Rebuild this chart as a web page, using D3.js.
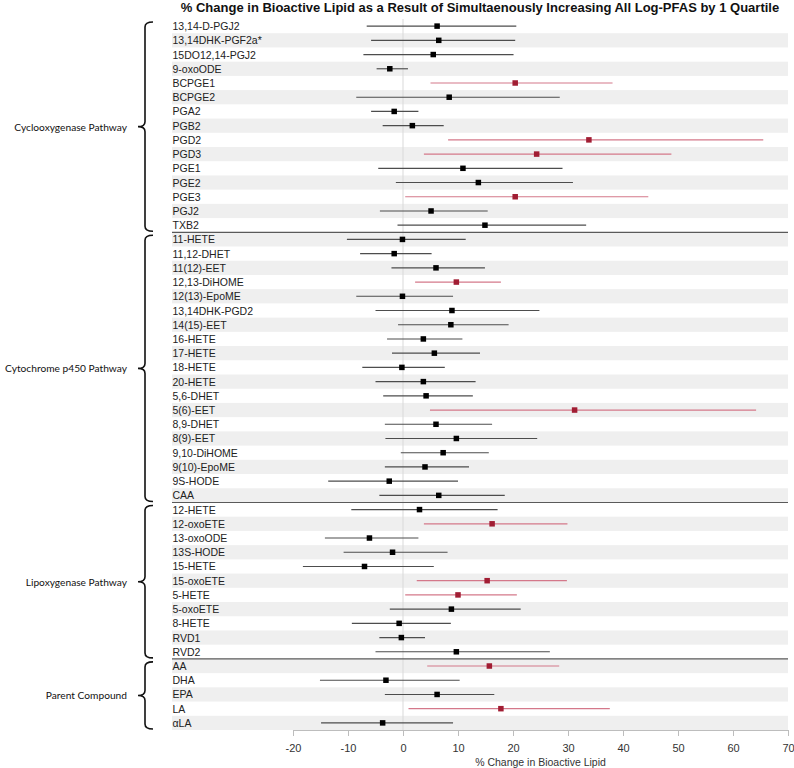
<!DOCTYPE html>
<html>
<head>
<meta charset="utf-8">
<script src="https://cdn.jsdelivr.net/npm/d3@7"></script>
<style>
    body { margin: 0; background: #fff; }
    svg { display: block; }
</style>
</head>
<body>
<svg id="forestPlot" width="794" height="768"></svg>
<script>
// lipid names, top to bottom
const lipids = [
    "13,14-D-PGJ2", "13,14DHK-PGF2a*", "15DO12,14-PGJ2", "9-oxoODE", "BCPGE1",
    "BCPGE2", "PGA2", "PGB2", "PGD2", "PGD3", "PGE1", "PGE2", "PGE3", "PGJ2", "TXB2",
    "11-HETE", "11,12-DHET", "11(12)-EET", "12,13-DiHOME", "12(13)-EpoME",
    "13,14DHK-PGD2", "14(15)-EET", "16-HETE", "17-HETE", "18-HETE", "20-HETE",
    "5,6-DHET", "5(6)-EET", "8,9-DHET", "8(9)-EET", "9,10-DiHOME", "9(10)-EpoME",
    "9S-HODE", "CAA",
    "12-HETE", "12-oxoETE", "13-oxoODE", "13S-HODE", "15-HETE", "15-oxoETE",
    "5-HETE", "5-oxoETE", "8-HETE", "RVD1", "RVD2",
    "AA", "DHA", "EPA", "LA", "αLA"
];
const estimates = [
    6.2, 6.5, 5.5, -2.4, 20.4, 8.4, -1.6, 1.7, 33.8, 24.3, 10.9, 13.7, 20.4, 5.1, 14.9,
    -0.1, -1.6, 6.0, 9.7, -0.1, 8.9, 8.7, 3.7, 5.7, -0.2, 3.7, 4.2, 31.2, 6.0, 9.7,
    7.3, 4.0, -2.5, 6.5,
    3.0, 16.2, -6.1, -1.9, -7.0, 15.3, 10.0, 8.8, -0.7, -0.3, 9.7,
    15.7, -3.1, 6.2, 17.8, -3.7
];
const lowerCI = [
    -6.6, -5.8, -7.2, -4.8, 5.0, -8.5, -5.8, -3.7, 8.2, 3.8, -4.5, -1.3, 0.4, -4.2, -1.0,
    -10.2, -7.8, -2.1, 2.2, -8.5, -5.0, -0.9, -2.9, -2.0, -7.4, -5.0, -3.6, 4.9, -3.3, -3.2,
    -0.4, -3.3, -13.6, -4.3,
    -9.4, 3.8, -14.2, -10.8, -18.2, 2.5, 0.4, -2.4, -9.3, -4.3, -5.0,
    4.4, -15.1, -3.3, 1.0, -14.9
];
const upperCI = [
    20.6, 20.4, 20.1, 0.9, 38.1, 28.5, 2.8, 7.4, 65.5, 48.8, 29.0, 30.9, 44.6, 15.4, 33.3,
    11.4, 5.2, 14.9, 17.8, 9.1, 24.8, 19.2, 10.8, 14.0, 7.6, 13.2, 12.7, 64.2, 16.2, 24.4,
    15.6, 12.0, 10.0, 18.5,
    17.2, 29.9, 2.8, 8.1, 5.6, 29.8, 20.7, 21.4, 8.7, 4.0, 26.7,
    28.4, 10.3, 16.6, 37.6, 9.1
];
// pathway groups: label, first row index, number of rows
const groupNames = ["Cyclooxygenase Pathway", "Cytochrome p450 Pathway", "Lipoxygenase Pathway", "Parent Compound"];
const groupStarts = [0, 15, 34, 45];
const groupSizes = [15, 19, 11, 5];
const tickValues = [-20, -10, 0, 10, 20, 30, 40, 50, 60, 70];

const svg = d3.select("#forestPlot");

const plotLeft = 172;
const plotRight = 788;
const plotTop = 19;
const plotBottom = 730;

const red_color_code = "#a11d33";
const red_line_code = "#d4788a";
const black_line_code = "#4d4d4d";

const x = d3.scaleLinear().domain([-42, 70]).range([plotLeft, plotRight]);
const y = d3.scaleBand().domain(d3.range(lipids.length)).range([plotTop, plotBottom]);
const rowH = y.bandwidth();

const rows = lipids.map((name, i) => ({
    name: name,
    est: estimates[i],
    lo: lowerCI[i],
    hi: upperCI[i],
    sig: lowerCI[i] > 0,
    index: i,
}));

// row shading
svg.append("g")
    .selectAll("rect")
    .data(rows.filter((d) => d.index % 2 == 1))
    .join("rect")
    .attr("x", plotLeft)
    .attr("y", (d) => y(d.index))
    .attr("width", plotRight - plotLeft)
    .attr("height", rowH)
    .attr("fill", "#efefef");

// zero line
svg.append("line")
    .attr("x1", x(0))
    .attr("x2", x(0))
    .attr("y1", plotTop)
    .attr("y2", plotBottom)
    .attr("stroke", "#d9d9d9")
    .attr("stroke-width", 1);

// group separators
for (let g = 1; g < groupStarts.length; g++) {
    const sepY = y(groupStarts[g]);
    svg.append("line")
        .attr("x1", plotLeft)
        .attr("x2", plotRight)
        .attr("y1", sepY)
        .attr("y2", sepY)
        .attr("stroke", "#5a5a5a")
        .attr("stroke-width", 1.2);
}

// row labels
svg.append("g")
    .selectAll("text")
    .data(rows)
    .join("text")
    .attr("x", plotLeft + 0.5)
    .attr("y", (d) => y(d.index) + rowH / 2)
    .attr("dominant-baseline", "central")
    .attr("font-family", "Liberation Sans, Arial, sans-serif")
    .attr("font-size", 10.5)
    .attr("fill", "#222")
    .text((d) => d.name);

// confidence intervals
svg.append("g")
    .selectAll("line")
    .data(rows)
    .join("line")
    .attr("x1", (d) => x(d.lo))
    .attr("x2", (d) => x(d.hi))
    .attr("y1", (d) => y(d.index) + rowH / 2)
    .attr("y2", (d) => y(d.index) + rowH / 2)
    .attr("stroke", (d) => (d.sig ? red_line_code : black_line_code))
    .attr("stroke-width", 1.15);

// point estimates
const markSize = 5.5;
svg.append("g")
    .selectAll("rect")
    .data(rows)
    .join("rect")
    .attr("x", (d) => x(d.est) - markSize / 2)
    .attr("y", (d) => y(d.index) + rowH / 2 - markSize / 2)
    .attr("width", markSize)
    .attr("height", markSize)
    .attr("fill", (d) => (d.sig ? red_color_code : "#000"));

// x axis, only spanning the tick range
const xAxisScale = x.copy().domain([-20, 70]).range([x(-20), x(70)]);
const xAxis = svg.append("g")
    .attr("transform", `translate(0,${plotBottom})`)
    .call(
        d3.axisBottom(xAxisScale)
            .tickValues(tickValues)
            .tickFormat((d) => String(d))
            .tickSize(6)
            .tickSizeOuter(0)
            .tickPadding(8)
    );
xAxis.select(".domain").attr("stroke", "#bdbdbd");
xAxis.selectAll(".tick line").attr("stroke", "#bdbdbd");
xAxis.selectAll(".tick text")
    .attr("font-family", "Liberation Sans, Arial, sans-serif")
    .attr("font-size", 11)
    .attr("fill", "#333");

svg.append("text")
    .attr("x", (x(-20) + x(70)) / 2)
    .attr("y", 762)
    .attr("text-anchor", "middle")
    .attr("dominant-baseline", "central")
    .attr("font-family", "Liberation Sans, Arial, sans-serif")
    .attr("font-size", 10.5)
    .attr("fill", "#333")
    .text("% Change in Bioactive Lipid");

// title
svg.append("text")
    .attr("x", (plotLeft + plotRight) / 2)
    .attr("y", 7.5)
    .attr("text-anchor", "middle")
    .attr("dominant-baseline", "central")
    .attr("font-family", "Liberation Sans, Arial, sans-serif")
    .attr("font-weight", "bold")
    .attr("font-size", 13)
    .attr("fill", "#111")
    .text("% Change in Bioactive Lipid as a Result of Simultaenously Increasing All Log-PFAS by 1 Quartile");

// curly brackets and pathway labels
function bracePath(top, bottom) {
    const bx = 145;
    const arm = 153;
    const nub = 138;
    const mid = (top + bottom) / 2;
    const r = 5;
    return `M${arm},${top} Q${bx},${top} ${bx},${top + r}` +
        ` L${bx},${mid - r} Q${bx},${mid} ${nub},${mid}` +
        ` Q${bx},${mid} ${bx},${mid + r}` +
        ` L${bx},${bottom - r} Q${bx},${bottom} ${arm},${bottom}`;
}

for (let g = 0; g < groupNames.length; g++) {
    const top = y(groupStarts[g]) + 3;
    const bottom = y(groupStarts[g] + groupSizes[g] - 1) + rowH - 1;
    svg.append("path")
        .attr("d", bracePath(top, bottom))
        .attr("fill", "none")
        .attr("stroke", "#111")
        .attr("stroke-width", 1.6);
    svg.append("text")
        .attr("x", 127)
        .attr("y", (top + bottom) / 2)
        .attr("text-anchor", "end")
        .attr("dominant-baseline", "central")
        .attr("font-family", "Lato, Open Sans, sans-serif")
        .attr("font-size", 10.2)
        .attr("fill", "#111")
        .text(groupNames[g]);
}
</script>
</body>
</html>
